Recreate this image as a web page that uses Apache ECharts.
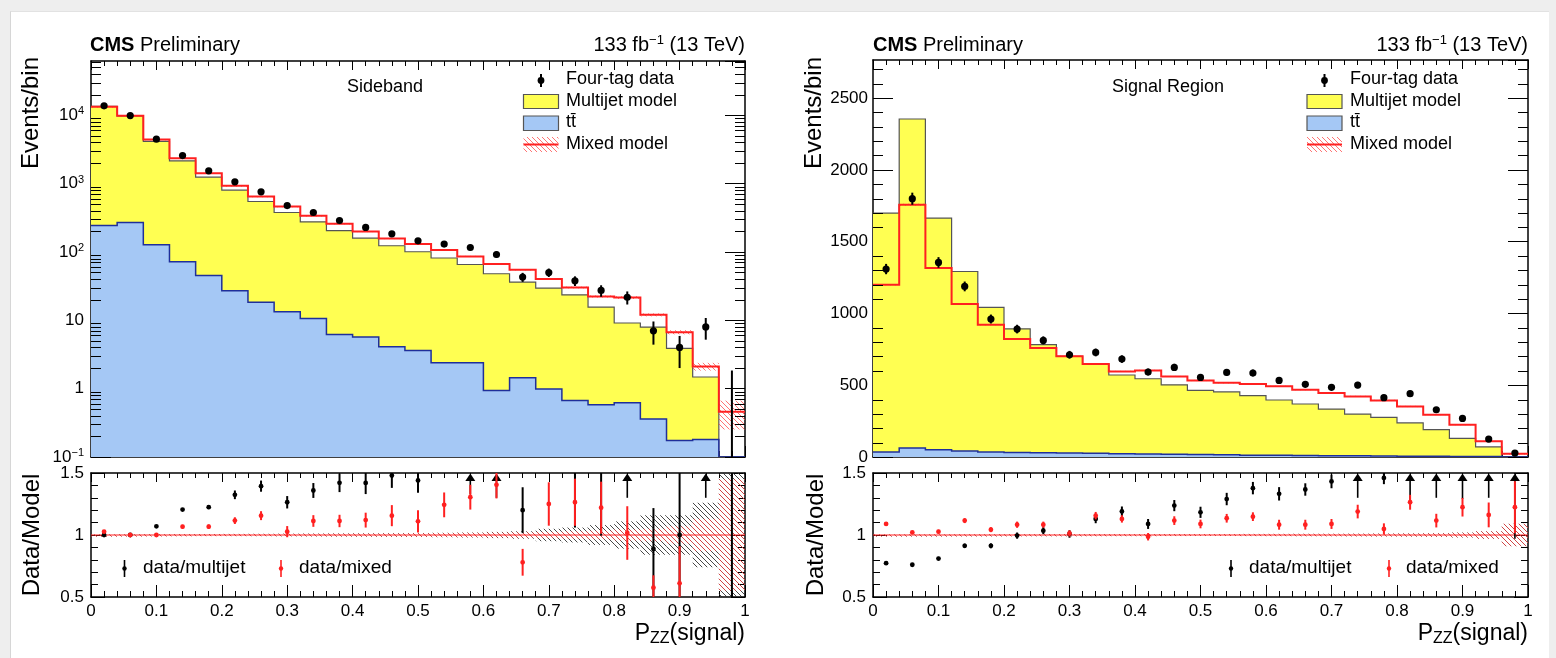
<!DOCTYPE html>
<html>
<head>
<meta charset="utf-8">
<script src="https://cdn.jsdelivr.net/npm/echarts@6/dist/echarts.min.js"></script>
<style>
  html, body { margin: 0; padding: 0; background: #eeeeee; }
  #sheet { position: absolute; left: 10px; top: 11px; width: 1538px; height: 647px; background: #fff; border-left: 1px solid #d6d6d6; border-top: 1px solid #e2e2e2; }
  #chart { position: absolute; left: 0; top: 0; width: 1556px; height: 658px; }
</style>
</head>
<body>
<div id="sheet"></div>
<div id="chart"></div>
<script>
// ---------------- binning ----------------
const binEdges = [0, 0.04, 0.08, 0.12, 0.16, 0.2, 0.24, 0.28, 0.32, 0.36, 0.4, 0.44, 0.48,
  0.52, 0.56, 0.6, 0.64, 0.68, 0.72, 0.76, 0.8, 0.84, 0.88, 0.92, 0.96, 1];

// ---------------- Sideband ----------------
const sbTtbar = [243, 269, 127, 72, 45, 27, 18.4, 13.3, 10.6, 6.2, 5.7, 4.1, 3.6, 2.4, 2.4,
  0.94, 1.44, 0.99, 0.67, 0.58, 0.62, 0.36, 0.175, 0.18, 0];
const sbMultijet = [13260, 9530, 4020, 2080, 1196, 774, 528, 364, 265, 198, 153, 119, 97, 79, 63,
  47, 34.7, 28.6, 22.9, 15.0, 8.5, 7.6, 3.7, 1.3, 0];
const sbMixed = [13300, 9800, 4420, 2350, 1419, 925, 646, 461, 337, 258, 199, 157, 130, 107, 86,
  66.4, 54.7, 40, 30.2, 22.3, 21.5, 12.0, 6.7, 2.11, 0.46];
const sbMixRelErr = [0.003, 0.003, 0.004, 0.005, 0.006, 0.007, 0.008, 0.009, 0.01, 0.011, 0.012,
  0.013, 0.015, 0.016, 0.018, 0.02, 0.022, 0.025, 0.03, 0.035, 0.045, 0.05, 0.07, 0.13, 0.45];
const sbData = [13700, 9850, 4450, 2565, 1535, 1059, 757, 476, 377, 288, 228, 184, 145, 130, 116,
  91.6, 42.9, 50, 37.8, 27.3, 21.7, 7.0, 4.0, 8.0, 0];
const sbDataErrLo = [117, 99, 67, 51, 39, 33, 28, 22, 19, 17, 15, 14, 12, 11, 11, 9.6, 6.5, 7.1,
  6.1, 5.2, 4.7, 2.6, 2.0, 2.8, 0];
const sbDataErrHi = [117, 99, 67, 51, 39, 33, 28, 22, 19, 17, 15, 14, 12, 11, 11, 9.6, 6.5, 7.1,
  6.1, 5.2, 4.7, 2.6, 1.9, 2.8, 1.84];
// ratio panel (Sideband)
const sbMjRelErr = [0.004, 0.005, 0.006, 0.007, 0.008, 0.009, 0.01, 0.011, 0.012, 0.013, 0.014,
  0.015, 0.016, 0.018, 0.02, 0.025, 0.03, 0.05, 0.06, 0.08, 0.11, 0.16, 0.16, 0.26, 1.0];
const sbRatioMj = [1.0, 1.0, 1.07, 1.205, 1.224, 1.324, 1.394, 1.264, 1.359, 1.421, 1.42, 1.48,
  1.44, 1.65, 1.78, 1.91, 1.20, 1.69, 1.6, 1.75, 2.38, 0.887, 1.0, 5.4, 0];
const sbRatioMjLo = [0.01, 0.01, 0.01, 0.012, 0.015, 0.035, 0.045, 0.05, 0.06, 0.075, 0.09, 0.1,
  0.1, 0.1, 0.45, 0.61, 0.185, 0.1, 0.54, 0.755, 1.08, 0.5, 0.6, 4.1, 0];
const sbRatioMjHi = [0.01, 0.01, 0.01, 0.012, 0.015, 0.035, 0.045, 0.05, 0.06, 0.075, 0.09, 0.1,
  0.1, 0.1, 0.2, 0.2, 0.185, 0.1, 0.54, 0.755, 0.3, 0.33, 0.6, 0.3, 2];
const sbRatioMix = [1.027, 1.0, 1.0, 1.067, 1.067, 1.116, 1.156, 1.027, 1.113, 1.113, 1.12, 1.156,
  1.11, 1.243, 1.305, 1.405, 0.78, 1.25, 1.264, 1.22, 1.016, 0.575, 0.61, null, null];
const sbRatioMixErr = [0.01, 0.01, 0.012, 0.015, 0.018, 0.027, 0.036, 0.045, 0.047, 0.05, 0.06,
  0.085, 0.09, 0.1, 0.1, 0.11, 0.108, 0.175, 0.19, 0.21, 0.216, 0.1, 0.3, 0, 0];
const sbArrowBins = [14, 15, 20, 23];

// ---------------- Signal Region ----------------
const srTtbar = [35, 63, 51, 42, 35, 32, 30, 28, 26, 23, 21, 19, 17, 15, 13, 12, 10, 9, 8, 7, 6,
  5, 4, 3, 0];
const srMultijet = [1664, 2291, 1613, 1250, 1007, 861, 752, 673, 621, 548, 524, 484, 447, 438, 414,
  385, 359, 325, 291, 269, 231, 185, 126, 67, 0];
const srMixed = [1200, 1757, 1316, 1065, 921, 822, 759, 701, 647, 596, 603, 561, 533, 517, 508,
  492, 469, 446, 422, 394, 352, 295, 225, 109, 22];
const srMixRelErr = [0.004, 0.004, 0.004, 0.005, 0.005, 0.005, 0.006, 0.006, 0.006, 0.007, 0.007,
  0.007, 0.008, 0.008, 0.008, 0.009, 0.009, 0.01, 0.01, 0.011, 0.012, 0.014, 0.018, 0.03, 0.09];
const srData = [1309, 1799, 1355, 1188, 961, 891, 812, 712, 728, 682, 592, 624, 554, 589, 585, 533,
  506, 485, 501, 413, 441, 329, 269, 125, 27];
const srDataErr = [36, 42, 37, 34, 31, 30, 28, 27, 27, 26, 24, 25, 24, 24, 24, 23, 22, 22, 22, 20,
  21, 18, 16, 11, 5.2];
// ratio panel (Signal Region)
const srMjRelErr = [0.004, 0.004, 0.004, 0.005, 0.005, 0.006, 0.006, 0.006, 0.007, 0.007, 0.007,
  0.008, 0.008, 0.008, 0.009, 0.009, 0.01, 0.01, 0.011, 0.012, 0.013, 0.015, 0.02, 0.03, 0.09];
const srRatioMj = [0.773, 0.76, 0.81, 0.913, 0.913, 0.995, 1.035, 1.008, 1.13, 1.19, 1.089, 1.237,
  1.183, 1.29, 1.378, 1.332, 1.367, 1.432, 1.68, 1.46, 1.86, 1.73, 2.07, 1.79, 5];
const srRatioMjLo = [0.012, 0.012, 0.014, 0.018, 0.02, 0.025, 0.028, 0.03, 0.035, 0.04, 0.04, 0.045,
  0.045, 0.05, 0.05, 0.054, 0.05, 0.055, 0.38, 0.05, 0.6, 0.43, 0.78, 0.49, 4.03];
const srRatioMjHi = [0.012, 0.012, 0.014, 0.018, 0.02, 0.025, 0.028, 0.03, 0.035, 0.04, 0.04, 0.045,
  0.045, 0.05, 0.05, 0.054, 0.05, 0.055, 0.1, 0.05, 0.1, 0.1, 0.1, 0.1, 0.1];
const srRatioMix = [1.089, 1.021, 1.027, 1.116, 1.043, 1.083, 1.083, 1.013, 1.156, 1.13, 0.986,
  1.116, 1.089, 1.135, 1.148, 1.083, 1.083, 1.089, 1.189, 1.049, 1.264, 1.116, 1.224, 1.162, 1.224];
const srRatioMixErr = [0.015, 0.012, 0.015, 0.02, 0.02, 0.025, 0.025, 0.025, 0.03, 0.03, 0.03,
  0.035, 0.035, 0.035, 0.035, 0.04, 0.04, 0.04, 0.055, 0.045, 0.06, 0.055, 0.075, 0.1, 0.21];
const srArrowBins = [18, 20, 21, 22, 23, 24];

// ---------------- axes & ticks ----------------
const xTicks = [0, 0.1, 0.2, 0.3, 0.4, 0.5, 0.6, 0.7, 0.8, 0.9, 1];
const xTickLabels = ['0', '0.1', '0.2', '0.3', '0.4', '0.5', '0.6', '0.7', '0.8', '0.9', '1'];
const sbYRange = [0.1, 62000];
const sbYTicks = [0.1, 1, 10, 100, 1000, 10000];
const sbYTickLabels = ['10^-1', '1', '10', '10^2', '10^3', '10^4'];
const srYRange = [0, 2765];
const srYTicks = [0, 500, 1000, 1500, 2000, 2500];
const srYTickLabels = ['0', '500', '1000', '1500', '2000', '2500'];
const ratioRange = [0.5, 1.5];
const ratioTicks = [0.5, 1, 1.5];
const ratioTickLabels = ['0.5', '1', '1.5'];

const FONT = '"Liberation Sans", Arial, Helvetica, sans-serif';
const YELLOW = '#ffff52';
const BLUE = '#a5c8f5';
const RED = '#ff2020';

function makeHatch(color, size) {
  const c = document.createElement('canvas');
  c.width = size; c.height = size;
  const g = c.getContext('2d');
  g.strokeStyle = color; g.lineWidth = 1;
  g.beginPath();
  g.moveTo(0, 0); g.lineTo(size, size);
  g.moveTo(-1, size - 1); g.lineTo(1, size + 1);
  g.moveTo(size - 1, -1); g.lineTo(size + 1, 1);
  g.stroke();
  return { type: 'pattern', image: c, repeat: 'repeat' };
}
const hatchRed = makeHatch('rgba(255,70,70,0.75)', 5);
const hatchGray = makeHatch('rgba(40,40,40,0.85)', 5);

function toRich(s) {
  if (s.indexOf('^') >= 0) {
    const parts = s.split('^');
    return '{b|' + parts[0] + '}{s|' + parts[1].replace('-', '\u2212') + '}';
  }
  return '{b|' + s + '}';
}
function labelFor(ticks, labels) {
  return function (v) {
    for (let i = 0; i < ticks.length; i++) {
      if (Math.abs(v - ticks[i]) <= 1e-6 * Math.max(1, Math.abs(ticks[i]))) return toRich(labels[i]);
    }
    return '';
  };
}
const labelRich = {
  b: { fontSize: 17, fontFamily: FONT, color: '#000' },
  s: { fontSize: 11, fontFamily: FONT, color: '#000', verticalAlign: 'top', padding: [0, 0, 8, 0] }
};

// ---------------- renderers ----------------
function histRenderer(cfg) {
  return function (params, api) {
    const n = binEdges.length - 1;
    const pt = (x, v) => api.coord([x, Math.max(v, cfg.floor)]);
    const steps = (vals) => {
      const pts = [];
      for (let i = 0; i < n; i++) {
        pts.push(pt(binEdges[i], vals[i]), pt(binEdges[i + 1], vals[i]));
      }
      return pts;
    };
    const b0 = pt(binEdges[0], cfg.floor), bN = pt(binEdges[n], cfg.floor);
    const stackTop = cfg.multijet.map((m, i) => m + cfg.ttbar[i]);
    const topPts = steps(stackTop);
    const ttPts = steps(cfg.ttbar);
    const ch = [];
    ch.push({ type: 'polygon', shape: { points: [b0].concat(topPts, [bN]) }, style: { fill: YELLOW } });
    ch.push({ type: 'polyline', shape: { points: topPts }, style: { stroke: '#555', lineWidth: 1.2, fill: null } });
    ch.push({ type: 'polygon', shape: { points: [b0].concat(ttPts, [bN]) }, style: { fill: BLUE } });
    ch.push({ type: 'polyline', shape: { points: ttPts }, style: { stroke: '#1f2f9a', lineWidth: 1.5, fill: null } });
    for (let i = 0; i < n; i++) {
      const e = cfg.mixed[i] * cfg.mixRelErr[i];
      const p1 = pt(binEdges[i], cfg.mixed[i] + e), p2 = pt(binEdges[i + 1], cfg.mixed[i] - e);
      ch.push({ type: 'rect', shape: { x: p1[0], y: p1[1], width: p2[0] - p1[0], height: Math.max(p2[1] - p1[1], 1) },
        style: { fill: hatchRed } });
    }
    ch.push({ type: 'polyline', shape: { points: steps(cfg.mixed) }, style: { stroke: RED, lineWidth: 2, fill: null } });
    for (let i = 0; i < n; i++) {
      const c = (binEdges[i] + binEdges[i + 1]) / 2;
      const d = cfg.data[i];
      const a = pt(c, d - cfg.errLo[i]), b = pt(c, d + cfg.errHi[i]);
      ch.push({ type: 'line', shape: { x1: a[0], y1: a[1], x2: b[0], y2: b[1] }, style: { stroke: '#000', lineWidth: 2 } });
      if (d > cfg.floor) {
        const p = pt(c, d);
        ch.push({ type: 'circle', shape: { cx: p[0], cy: p[1], r: 3.6 }, style: { fill: '#000' } });
      }
    }
    return { type: 'group', children: ch };
  };
}

function ratioRenderer(cfg) {
  return function (params, api) {
    const n = binEdges.length - 1;
    const pt = (x, v) => api.coord([x, v]);
    const ch = [];
    const band = (rel, fill) => {
      for (let i = 0; i < n; i++) {
        const p1 = pt(binEdges[i], 1 + rel[i]), p2 = pt(binEdges[i + 1], 1 - rel[i]);
        ch.push({ type: 'rect', shape: { x: p1[0], y: p1[1], width: p2[0] - p1[0], height: Math.max(p2[1] - p1[1], 2) },
          style: { fill: fill } });
      }
    };
    band(cfg.mjRelErr, hatchGray);
    band(cfg.mixRelErr, hatchRed);
    const l0 = pt(0, 1), l1 = pt(1, 1);
    ch.push({ type: 'line', shape: { x1: l0[0], y1: l0[1], x2: l1[0], y2: l1[1] }, style: { stroke: RED, lineWidth: 1 } });
    const points = (vals, lo, hi, color, arrows) => {
      for (let i = 0; i < n; i++) {
        const v = vals[i];
        if (v === null) continue;
        const c = (binEdges[i] + binEdges[i + 1]) / 2;
        if (arrows && arrows.indexOf(i) >= 0) {
          const top = pt(c, ratioRange[1]);
          const x = top[0], y = top[1];
          const end = pt(c, Math.max(v - lo[i], ratioRange[0]));
          ch.push({ type: 'line', shape: { x1: x, y1: y + 7, x2: x, y2: end[1] }, style: { stroke: color, lineWidth: 1.6 } });
          ch.push({ type: 'polygon', shape: { points: [[x, y + 0.5], [x - 5, y + 8], [x + 5, y + 8]] }, style: { fill: color } });
          continue;
        }
        const a = pt(c, v - lo[i]), b = pt(c, v + hi[i]);
        ch.push({ type: 'line', shape: { x1: a[0], y1: a[1], x2: b[0], y2: b[1] }, style: { stroke: color, lineWidth: 2 } });
        if (v >= ratioRange[0] && v <= ratioRange[1]) {
          const p = pt(c, v);
          ch.push({ type: 'circle', shape: { cx: p[0], cy: p[1], r: 2.4 }, style: { fill: color } });
        }
      }
    };
    points(cfg.mj, cfg.mjLo, cfg.mjHi, '#000', cfg.arrows);
    points(cfg.mix, cfg.mixErr, cfg.mixErr, RED, null);
    return { type: 'group', children: ch };
  };
}

function minorTickRenderer(values, len) {
  return function (params, api) {
    const cs = params.coordSys;
    const ch = [];
    values.forEach(v => {
      const y = Math.round(api.coord([0.5, v])[1]) + 0.5;
      ch.push({ type: 'line', shape: { x1: cs.x, y1: y, x2: cs.x + len, y2: y }, style: { stroke: '#000', lineWidth: 1 } });
      ch.push({ type: 'line', shape: { x1: cs.x + cs.width - len, y1: y, x2: cs.x + cs.width, y2: y }, style: { stroke: '#000', lineWidth: 1 } });
    });
    return { type: 'group', children: ch };
  };
}

const sbMinor = [];
for (let k = -1; k <= 4; k++) for (let m = 2; m <= 9; m++) {
  const v = m * Math.pow(10, k);
  if (v < sbYRange[1]) sbMinor.push(v);
}
const srMinor = [];
for (let v = 100; v < srYRange[1]; v += 100) if (v % 500 !== 0) srMinor.push(v);

// ---------------- axis builders ----------------
const axisLineStyle = { show: true, onZero: false, lineStyle: { color: '#000', width: 1.5 } };
function xAxisOf(grid, pos, showLabels, major, minor) {
  return {
    type: 'value', gridIndex: grid, position: pos, min: 0, max: 1, interval: 0.1,
    axisLine: axisLineStyle,
    axisTick: { show: true, inside: true, length: major, lineStyle: { color: '#000', width: 1 } },
    minorTick: { show: true, splitNumber: 5, length: minor, lineStyle: { color: '#000', width: 1 } },
    splitLine: { show: false },
    axisLabel: { show: showLabels, margin: 6, formatter: labelFor(xTicks, xTickLabels), rich: labelRich }
  };
}
function yAxisOf(grid, pos, kind, showLabels) {
  const ax = {
    gridIndex: grid, position: pos,
    axisLine: axisLineStyle,
    splitLine: { show: false },
    axisLabel: { show: showLabels, margin: 7, rich: labelRich, showMaxLabel: false }
  };
  if (kind === 'log') {
    Object.assign(ax, { type: 'log', logBase: 10, min: sbYRange[0], max: sbYRange[1],
      axisTick: { show: true, inside: true, length: 20, lineStyle: { color: '#000' } },
      minorTick: { show: false } });
    ax.axisLabel.formatter = labelFor(sbYTicks, sbYTickLabels);
  } else if (kind === 'lin') {
    Object.assign(ax, { type: 'value', min: srYRange[0], max: srYRange[1], interval: 500,
      axisTick: { show: true, inside: true, length: 20, lineStyle: { color: '#000' } },
      minorTick: { show: false } });
    ax.axisLabel.formatter = labelFor(srYTicks, srYTickLabels);
    ax.axisLabel.margin = 5;
  } else {
    Object.assign(ax, { type: 'value', min: ratioRange[0], max: ratioRange[1], interval: 0.5,
      axisTick: { show: true, inside: true, length: 14, lineStyle: { color: '#000' } },
      minorTick: { show: true, splitNumber: 5, length: 7, lineStyle: { color: '#000' } } });
    ax.axisLabel.formatter = labelFor(ratioTicks, ratioTickLabels);
    ax.axisLabel.showMaxLabel = true;
  }
  return ax;
}

// ---------------- texts & legends ----------------
const gfx = [];
function txt(x, y, text, size, opt) {
  gfx.push(Object.assign({ type: 'text', x: x, y: y, silent: true,
    style: Object.assign({ text: text, fontSize: size, fontFamily: FONT, fill: '#000', align: 'left', verticalAlign: 'middle' }, (opt && opt.style) || {}) },
    opt && opt.rotation ? { rotation: opt.rotation } : {}));
}
const headRich = {
  b: { fontSize: 20, fontFamily: FONT, fontWeight: 'bold', fill: '#000' },
  r: { fontSize: 20, fontFamily: FONT, fill: '#000' },
  s: { fontSize: 13, fontFamily: FONT, fill: '#000', verticalAlign: 'top', padding: [0, 0, 9, 0] }
};
const titleRich = {
  r: { fontSize: 23, fontFamily: FONT, fill: '#000' },
  sub: { fontSize: 16, fontFamily: FONT, fill: '#000', padding: [10, 0, 0, 0] }
};
function panelTexts(x0, x1, regionX, regionLabel) {
  txt(x0 - 1, 45, '{b|CMS}{r| Preliminary}', 20, { style: { rich: headRich } });
  txt(x1, 45, '{r|133 fb}{s|\u22121}{r| (13 TeV)}', 20, { style: { rich: headRich, align: 'right' } });
  txt(regionX, 87.5, regionLabel, 18);
  txt(x1, 634, '{r|P}{sub|ZZ}{r|(signal)}', 23, { style: { rich: titleRich, align: 'right' } });
}
panelTexts(91, 745, 347, 'Sideband');
panelTexts(874, 1528, 1112, 'Signal Region');
// rotated axis titles
txt(31, 57, 'Events/bin', 24, { rotation: Math.PI / 2, style: { align: 'right' } });
txt(814, 57, 'Events/bin', 24, { rotation: Math.PI / 2, style: { align: 'right' } });
txt(32, 535, 'Data/Model', 24, { rotation: Math.PI / 2, style: { align: 'center' } });
txt(816, 535, 'Data/Model', 24, { rotation: Math.PI / 2, style: { align: 'center' } });

function legendTop(bx, tx) {
  const mx = bx + 17.5;
  gfx.push({ type: 'line', silent: true, shape: { x1: mx, y1: 74, x2: mx, y2: 87 }, style: { stroke: '#000', lineWidth: 2 } });
  gfx.push({ type: 'circle', silent: true, shape: { cx: mx, cy: 80.5, r: 3.4 }, style: { fill: '#000' } });
  gfx.push({ type: 'rect', silent: true, shape: { x: bx, y: 94.5, width: 35, height: 14 }, style: { fill: YELLOW, stroke: '#555', lineWidth: 1.2 } });
  gfx.push({ type: 'rect', silent: true, shape: { x: bx, y: 116, width: 35, height: 14.5 }, style: { fill: BLUE, stroke: '#555', lineWidth: 1.2 } });
  gfx.push({ type: 'rect', silent: true, shape: { x: bx, y: 137, width: 35, height: 15 }, style: { fill: hatchRed } });
  gfx.push({ type: 'line', silent: true, shape: { x1: bx, y1: 144.5, x2: bx + 35, y2: 144.5 }, style: { stroke: RED, lineWidth: 2 } });
  txt(tx, 79.5, 'Four-tag data', 18);
  txt(tx, 101, 'Multijet model', 18);
  txt(tx, 122, 'tt\u0304', 18);
  txt(tx, 144, 'Mixed model', 18);
}
legendTop(523.5, 566);
legendTop(1307, 1350);

function legendRatio(bx, btx, rx, rtx) {
  gfx.push({ type: 'line', silent: true, shape: { x1: bx, y1: 560, x2: bx, y2: 577 }, style: { stroke: '#000', lineWidth: 1.6 } });
  gfx.push({ type: 'circle', silent: true, shape: { cx: bx, cy: 568.5, r: 2.2 }, style: { fill: '#000' } });
  gfx.push({ type: 'line', silent: true, shape: { x1: rx, y1: 560, x2: rx, y2: 577 }, style: { stroke: RED, lineWidth: 1.6 } });
  gfx.push({ type: 'circle', silent: true, shape: { cx: rx, cy: 568.5, r: 2.2 }, style: { fill: RED } });
  txt(btx, 568, 'data/multijet', 19);
  txt(rtx, 568, 'data/mixed', 19);
}
legendRatio(124.5, 143, 281, 299);
legendRatio(1231, 1249, 1389, 1406);

// ---------------- chart ----------------
const chart = echarts.init(document.getElementById('chart'), null, { renderer: 'canvas' });
const one = [[0.5, 1]];
chart.setOption({
  backgroundColor: 'transparent',
  animation: false,
  textStyle: { fontFamily: FONT, color: '#000' },
  grid: [
    { left: 91, top: 61, width: 654, height: 396 },
    { left: 91, top: 473, width: 654, height: 124 },
    { left: 873, top: 60, width: 655, height: 397 },
    { left: 873, top: 473, width: 655, height: 124 }
  ],
  xAxis: [
    xAxisOf(0, 'bottom', false, 11, 6), xAxisOf(0, 'top', false, 9, 5),
    xAxisOf(1, 'bottom', true, 12, 6), xAxisOf(1, 'top', false, 9, 5),
    xAxisOf(2, 'bottom', false, 11, 6), xAxisOf(2, 'top', false, 9, 5),
    xAxisOf(3, 'bottom', true, 12, 6), xAxisOf(3, 'top', false, 9, 5)
  ],
  yAxis: [
    yAxisOf(0, 'left', 'log', true), yAxisOf(0, 'right', 'log', false),
    yAxisOf(1, 'left', 'ratio', true), yAxisOf(1, 'right', 'ratio', false),
    yAxisOf(2, 'left', 'lin', true), yAxisOf(2, 'right', 'lin', false),
    yAxisOf(3, 'left', 'ratio', true), yAxisOf(3, 'right', 'ratio', false)
  ],
  series: [
    { type: 'custom', name: 'sideband', coordinateSystem: 'cartesian2d', xAxisIndex: 0, yAxisIndex: 0, clip: true, silent: true, data: one,
      renderItem: histRenderer({ floor: sbYRange[0], multijet: sbMultijet, ttbar: sbTtbar, mixed: sbMixed, mixRelErr: sbMixRelErr,
        data: sbData, errLo: sbDataErrLo, errHi: sbDataErrHi }) },
    { type: 'custom', name: 'sbMinor', coordinateSystem: 'cartesian2d', xAxisIndex: 0, yAxisIndex: 0, silent: true, data: one,
      renderItem: minorTickRenderer(sbMinor, 10) },
    { type: 'custom', name: 'sbRatio', coordinateSystem: 'cartesian2d', xAxisIndex: 2, yAxisIndex: 2, clip: true, silent: true, data: one,
      renderItem: ratioRenderer({ mjRelErr: sbMjRelErr, mixRelErr: sbMixRelErr, mj: sbRatioMj, mjLo: sbRatioMjLo, mjHi: sbRatioMjHi,
        mix: sbRatioMix, mixErr: sbRatioMixErr, arrows: sbArrowBins }) },
    { type: 'custom', name: 'signal', coordinateSystem: 'cartesian2d', xAxisIndex: 4, yAxisIndex: 4, clip: true, silent: true, data: one,
      renderItem: histRenderer({ floor: srYRange[0], multijet: srMultijet, ttbar: srTtbar, mixed: srMixed, mixRelErr: srMixRelErr,
        data: srData, errLo: srDataErr, errHi: srDataErr }) },
    { type: 'custom', name: 'srMinor', coordinateSystem: 'cartesian2d', xAxisIndex: 4, yAxisIndex: 4, silent: true, data: one,
      renderItem: minorTickRenderer(srMinor, 10) },
    { type: 'custom', name: 'srRatio', coordinateSystem: 'cartesian2d', xAxisIndex: 6, yAxisIndex: 6, clip: true, silent: true, data: one,
      renderItem: ratioRenderer({ mjRelErr: srMjRelErr, mixRelErr: srMixRelErr, mj: srRatioMj, mjLo: srRatioMjLo, mjHi: srRatioMjHi,
        mix: srRatioMix, mixErr: srRatioMixErr, arrows: srArrowBins }) }
  ],
  graphic: gfx
});
</script>
</body>
</html>
